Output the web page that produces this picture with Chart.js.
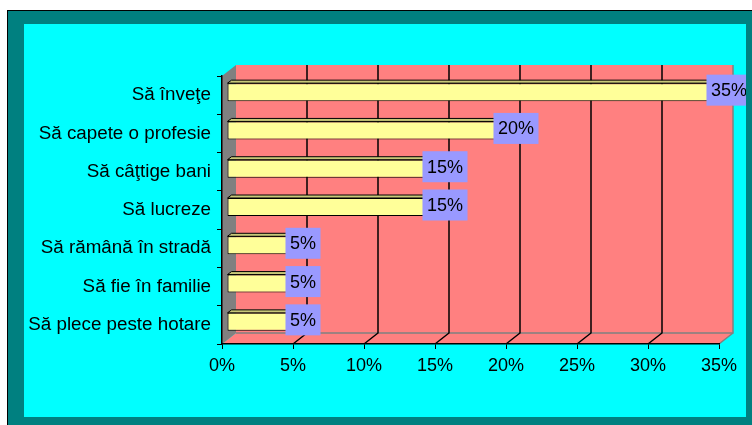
<!DOCTYPE html>
<html>
<head>
<meta charset="utf-8">
<script src="https://cdn.jsdelivr.net/npm/chart.js@4/dist/chart.umd.min.js"></script>
<style>
  html, body { margin: 0; padding: 0; background: #fff; }
  #c { display: block; }
</style>
</head>
<body>
<canvas id="c" width="752" height="425"></canvas>
<script>
const categories = [
  "Să înveţe",
  "Să capete o profesie",
  "Să câţtige bani",
  "Să lucreze",
  "Să rămână în stradă",
  "Să fie în familie",
  "Să plece peste hotare"
];
const values = [35, 20, 15, 15, 5, 5, 5];
const xTicks = [0, 5, 10, 15, 20, 25, 30, 35];

// 3D look: depth of the walls and of the bars
const depthX = 14, depthY = 11;
const barShiftX = 5, barShiftY = 3;
const topX = 4, topY = 3;

const threeD = {
  id: "threeD",
  beforeDraw(chart) {
    const { ctx, chartArea: a, scales: { x } } = chart;
    ctx.save();
    // outer frame
    ctx.fillStyle = "#fff";
    ctx.fillRect(0, 0, 752, 425);
    ctx.fillStyle = "#008080";
    ctx.fillRect(7, 10, 745, 415);
    ctx.strokeStyle = "#000";
    ctx.lineWidth = 1;
    ctx.strokeRect(7.5, 10.5, 760, 430);
    ctx.fillStyle = "#00FFFF";
    ctx.fillRect(24, 24, 722, 393);

    const bl = a.left + depthX, br = a.right + depthX;
    const bt = a.top - depthY, bb = a.bottom - depthY;

    // back wall
    ctx.fillStyle = "#FF8080";
    ctx.fillRect(bl, bt, br - bl, bb - bt);
    // floor
    ctx.beginPath();
    ctx.moveTo(a.left, a.bottom);
    ctx.lineTo(a.right, a.bottom);
    ctx.lineTo(br, bb);
    ctx.lineTo(bl, bb);
    ctx.closePath();
    ctx.fill();
    // left wall
    ctx.fillStyle = "#808080";
    ctx.beginPath();
    ctx.moveTo(a.left, a.top);
    ctx.lineTo(bl, bt);
    ctx.lineTo(bl, bb);
    ctx.lineTo(a.left, a.bottom);
    ctx.closePath();
    ctx.fill();

    // wall edges
    ctx.strokeStyle = "#808080";
    ctx.lineWidth = 1.5;
    ctx.beginPath();
    ctx.moveTo(bl, bb);
    ctx.lineTo(br, bb);
    ctx.lineTo(br, bt);
    ctx.moveTo(br, bb);
    ctx.lineTo(a.right, a.bottom);
    ctx.stroke();

    // gridlines on back wall and floor
    ctx.strokeStyle = "#000";
    ctx.lineWidth = 1.5;
    xTicks.forEach((v) => {
      if (v === xTicks[0] || v === xTicks[xTicks.length - 1]) return;
      const px = x.getPixelForValue(v);
      ctx.beginPath();
      ctx.moveTo(px + depthX, bt);
      ctx.lineTo(px + depthX, bb);
      ctx.lineTo(px, a.bottom);
      ctx.stroke();
    });
    ctx.restore();
  },
  beforeDatasetsDraw(chart) {
    const ctx = chart.ctx;
    ctx.save();
    ctx.translate(barShiftX, -barShiftY);
    chart.getDatasetMeta(0).data.forEach((el) => {
      const p = el.getProps(["x", "y", "base", "height"], true);
      const top = p.y - p.height / 2, bottom = p.y + p.height / 2;
      ctx.fillStyle = "#C8C878";
      ctx.strokeStyle = "#000";
      ctx.lineWidth = 1;
      ctx.beginPath();
      ctx.moveTo(p.base, top);
      ctx.lineTo(p.base + topX, top - topY);
      ctx.lineTo(p.x + topX, top - topY);
      ctx.lineTo(p.x, top);
      ctx.closePath();
      ctx.fill();
      ctx.stroke();
      ctx.fillStyle = "#B0B060";
      ctx.beginPath();
      ctx.moveTo(p.x, top);
      ctx.lineTo(p.x + topX, top - topY);
      ctx.lineTo(p.x + topX, bottom - topY);
      ctx.lineTo(p.x, bottom);
      ctx.closePath();
      ctx.fill();
      ctx.stroke();
    });
  },
  afterDatasetsDraw(chart) {
    const ctx = chart.ctx;
    ctx.restore();
    ctx.save();
    ctx.font = '18px "Liberation Sans", Arial, sans-serif';
    ctx.textAlign = "center";
    ctx.textBaseline = "middle";
    chart.getDatasetMeta(0).data.forEach((el, i) => {
      const text = values[i] + "%";
      const w = ctx.measureText(text).width + 9;
      const cx = el.x + 10, cy = el.y - 5;
      ctx.fillStyle = "#9999FF";
      ctx.fillRect(cx - w / 2, cy - 15.5, w, 31);
      ctx.fillStyle = "#000";
      ctx.fillText(text, cx, cy + 1);
    });
    ctx.restore();
  },
  afterDraw(chart) {
    const ctx = chart.ctx;
    ctx.fillStyle = "#008080";
    ctx.fillRect(746, 24, 6, 401);
  }
};

Chart.defaults.font.family = '"Liberation Sans", Arial, sans-serif';
Chart.defaults.font.size = 18;
Chart.defaults.color = "#000";

new Chart(document.getElementById("c"), {
  type: "bar",
  data: {
    labels: categories,
    datasets: [
      {
        data: values,
        backgroundColor: "#FFFF99",
        borderColor: "#000",
        borderWidth: 1,
        borderSkipped: false,
        barPercentage: 0.47,
        categoryPercentage: 1,
        clip: false
      }
    ]
  },
  options: {
    indexAxis: "y",
    responsive: false,
    animation: false,
    devicePixelRatio: 1,
    layout: { padding: { left: 0, top: 76, right: 33, bottom: 0 } },
    plugins: { legend: { display: false }, tooltip: { enabled: false } },
    scales: {
      x: {
        min: 0,
        max: 35,
        afterFit: (s) => { s.height = 81; },
        afterBuildTicks: (s) => { s.ticks = xTicks.map((v) => ({ value: v })); },
        ticks: { callback: (v) => v + "%", padding: 6, color: "#000", font: { size: 18 } },
        grid: { drawOnChartArea: false, drawTicks: true, tickLength: 5, color: "#000" },
        border: { display: true, color: "#000", width: 1.5 }
      },
      y: {
        afterFit: (s) => { s.width = 222; },
        ticks: { padding: 6, color: "#000", font: { size: 18.8 } },
        grid: { drawOnChartArea: false, drawTicks: true, tickLength: 5, color: "#000", offset: true },
        border: { display: true, color: "#000", width: 1.5 }
      }
    }
  },
  plugins: [threeD]
});
</script>
</body>
</html>
